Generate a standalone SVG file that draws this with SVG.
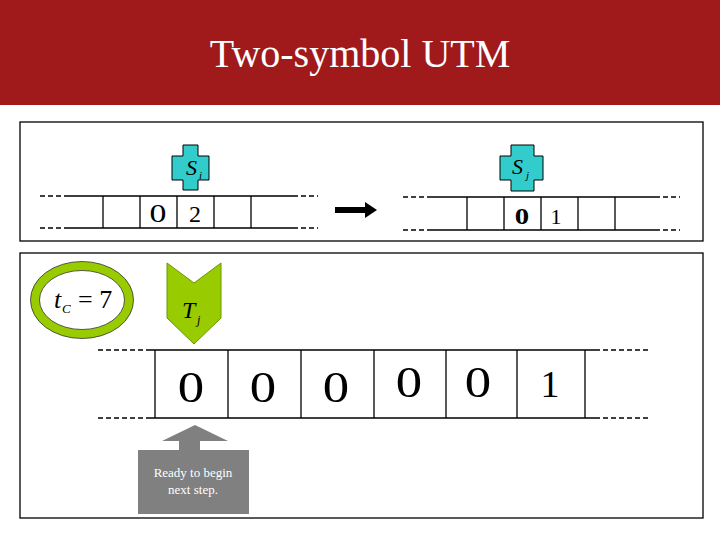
<svg xmlns="http://www.w3.org/2000/svg" width="720" height="540" viewBox="0 0 720 540">
<style>
.ln{stroke:#000;stroke-width:1.3;fill:none}
.ds{stroke:#000;stroke-width:1.3;stroke-dasharray:5,3;fill:none}
text{font-family:"Liberation Serif","DejaVu Serif",serif}
.t{fill:#000}
.cross{fill:#33CCCC;stroke:#000;stroke-width:1}
</style>
<rect x="0" y="0" width="720" height="540" fill="#fff"/>
<g id="title"><rect x="0" y="0" width="720" height="105" fill="#A0191B"/>
<text x="360" y="67" text-anchor="middle" font-family="Liberation Serif, serif" font-size="40" fill="#fff">Two-symbol UTM</text></g>
<rect x="20" y="122" width="683" height="119" class="ln"/>
<rect x="20" y="253" width="683" height="265" class="ln"/>
<g id="tape1">
<path class="ds" d="M40 196H66M40 228H66M293 196H318M293 228H318"/>
<path class="ln" d="M66 196H293M66 228H293M103 196V228M140 196V228M177 196V228M214 196V228M251 196V228"/>
<text x="158" y="222" text-anchor="middle" class="t" font-size="26" transform="translate(158 0) scale(1.3 1) translate(-158 0)">0</text>
<text x="195" y="222" text-anchor="middle" class="t" font-size="24">2</text>
</g>
<g id="Si"><path class="cross" d="M183 145H198V156H209V180H198V190H183V180H172V156H183Z"/>
<text x="186" y="175" class="t" font-size="22" font-style="italic">S</text><text x="199" y="179" class="t" font-size="11" font-style="italic">i</text></g>
<g id="tape2">
<path class="ds" d="M403 197H430M403 230H430M655 197H680M655 230H680"/>
<path class="ln" d="M430 197H655M430 230H655M467 197V230M504 197V230M541 197V230M578 197V230M615 197V230"/>
<text x="522" y="224" text-anchor="middle" class="t" font-size="24" font-weight="bold" transform="translate(522 0) scale(1.2 1) translate(-522 0)">0</text>
<text x="556" y="224" text-anchor="middle" class="t" font-size="22">1</text>
</g>
<g id="Sj"><path class="cross" d="M511 145H534V156H543V180H534V191H511V180H500V156H511Z"/>
<text x="512" y="174" class="t" font-size="22" font-style="italic">S</text><text x="526" y="179" class="t" font-size="11" font-style="italic">j</text></g>
<g id="connectors"><path d="M335 207H365V202L377 210L365 218V213H335Z" fill="#000"/></g>
<g id="tc"><ellipse cx="82" cy="300" rx="47" ry="34" fill="#fff" stroke="#99CC00" stroke-width="9"/>
<ellipse cx="82" cy="300" rx="51.5" ry="38.5" fill="none" stroke="#333" stroke-width="0.8"/>
<ellipse cx="82" cy="300" rx="42.5" ry="29.5" fill="none" stroke="#333" stroke-width="0.8"/>
<text x="54" y="308" class="t" font-size="26" font-style="italic">t</text>
<text x="62" y="313" class="t" font-size="13" font-style="italic">C</text>
<text x="78" y="308" class="t" font-size="26">= 7</text></g>
<g id="Tj"><path d="M167 263L194 283L221 263V318L194 344L167 318Z" fill="#99CC00" stroke="#669900" stroke-width="1"/>
<text x="182" y="318" class="t" font-size="24" font-style="italic">T</text><text x="197" y="324" class="t" font-size="12" font-style="italic">j</text></g>
<g id="tape3">
<path class="ds" d="M98 350H150M98 418H150M595 350H648M595 418H648"/>
<path class="ln" d="M150 350H595M150 418H595M155 350V418M228 350V418M301 350V418M374 350V418M446 350V418M517 350V418M585 350V418"/>
<g class="t" font-size="44" text-anchor="middle">
<text x="191" y="402" transform="translate(191 0) scale(1.2 1) translate(-191 0)">0</text>
<text x="263" y="402" transform="translate(263 0) scale(1.2 1) translate(-263 0)">0</text>
<text x="336" y="402" transform="translate(336 0) scale(1.2 1) translate(-336 0)">0</text>
<text x="409" y="397" transform="translate(409 0) scale(1.2 1) translate(-409 0)">0</text>
<text x="478" y="397" transform="translate(478 0) scale(1.2 1) translate(-478 0)">0</text>
<text x="550" y="397" font-size="38">1</text></g>
</g>
<g id="note"><path d="M195 425L228 441H200V450H249V514H138V450H179V441H162Z" fill="#808080"/>
<text x="193" y="477" text-anchor="middle" font-size="13" fill="#fff">Ready to begin</text>
<text x="193" y="494" text-anchor="middle" font-size="13" fill="#fff">next step.</text></g>
</svg>
